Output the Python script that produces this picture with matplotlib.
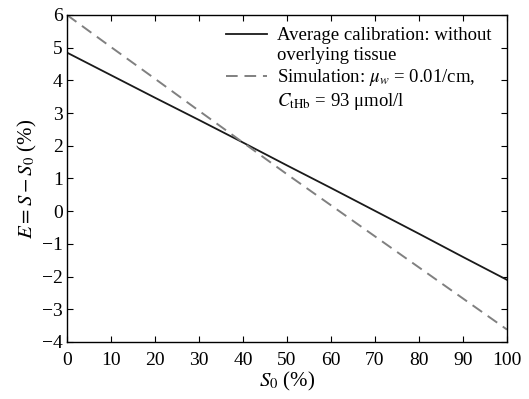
import numpy as np
import matplotlib
matplotlib.use('Agg')
import matplotlib.pyplot as plt
from matplotlib.lines import Line2D

# Data
S0 = [0, 10, 20, 30, 40, 50, 60, 70, 80, 90, 100]
E_calib = [4.85, 4.16, 3.47, 2.79, 2.10, 1.40, 0.71, 0.01, -0.69, -1.40, -2.10]
E_sim = [6.00, 5.02, 4.05, 3.07, 2.10, 1.13, 0.18, -0.77, -1.72, -2.67, -3.62]

X_TICKS = np.arange(0, 101, 10)
Y_TICKS = np.arange(-4, 7, 1)

plt.rcParams['font.family'] = ['Liberation Serif', 'DejaVu Serif']
plt.rcParams['mathtext.fontset'] = 'stix'
plt.rcParams['font.size'] = 14

fig = plt.figure(figsize=(5.29, 3.99), dpi=100)
ax = fig.add_axes([67 / 529, 1 - 342 / 399, 440 / 529, 327 / 399])

ax.plot(S0, E_calib, color='#1a1a1a', linewidth=1.3)
ax.plot(S0, E_sim, color='#808080', linewidth=1.4, dashes=(6, 3.5))

ax.set_xlim(0, 100)
ax.set_ylim(-4, 6)
ax.set_xticks(X_TICKS)
ax.set_yticks(Y_TICKS)
ax.set_yticklabels([str(v).replace('-', '\u2212') for v in Y_TICKS])
ax.tick_params(direction='in', top=True, right=True, length=4, width=0.8)
ax.tick_params(axis='x', pad=7)
ax.tick_params(axis='y', pad=3)
for s in ax.spines.values():
    s.set_linewidth(1.0)

ax.set_xlabel(r'$S_0$ (%)', fontsize=15, labelpad=1)
ax.set_ylabel(r'$E = S - S_0$ (%)', fontsize=15, labelpad=2)

blank = Line2D([], [], linestyle='none')
handles = [Line2D([], [], color='#1a1a1a', linewidth=1.3), blank,
           Line2D([], [], color='#808080', linewidth=1.4, dashes=(6, 3.5)), blank]
labels = ['Average calibration: without', 'overlying tissue',
          r'Simulation: $\mu_w$ = 0.01/cm,', r'$C_{\rm tHb}$ = 93 ' + '\u03bcmol/l']
ax.legend(handles, labels, loc='upper left', bbox_to_anchor=((226 - 67) / 440, 1 - 12 / 327),
          frameon=False, borderpad=0, borderaxespad=0, handlelength=2.2,
          handletextpad=0.5, labelspacing=0.16, fontsize=13.5)

fig.savefig('out.png', dpi=100)
